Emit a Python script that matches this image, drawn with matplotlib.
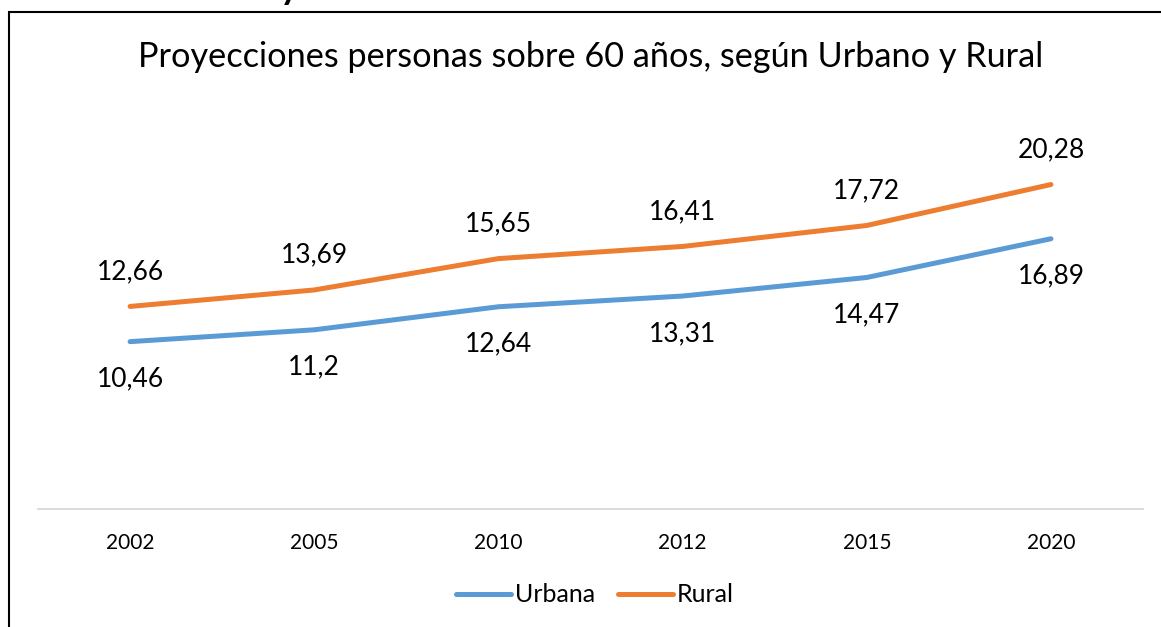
import matplotlib
matplotlib.use('Agg')
import matplotlib.pyplot as plt
from matplotlib.patches import Rectangle
from matplotlib.lines import Line2D

# Data
years = ['2002', '2005', '2010', '2012', '2015', '2020']
urbana = [10.46, 11.2, 12.64, 13.31, 14.47, 16.89]
rural = [12.66, 13.69, 15.65, 16.41, 17.72, 20.28]
urbana_labels = ['10,46', '11,2', '12,64', '13,31', '14,47', '16,89']
rural_labels = ['12,66', '13,69', '15,65', '16,41', '17,72', '20,28']

title = 'Proyecciones personas sobre 60 años, según Urbano y Rural'
blue = '#5B9BD5'
orange = '#ED7D31'

plt.rcParams['font.family'] = ['Lato', 'DejaVu Sans']

W, H = 1161, 627
fig = plt.figure(figsize=(W / 100, H / 100), dpi=100)

# chart frame (only the left and top edges are visible in the crop)
fig.patches.append(Rectangle((8.5 / W, -0.1), 1.2, (1 - 11.5 / H) + 0.1,
                             transform=fig.transFigure, fill=False,
                             edgecolor='black', linewidth=1.5))
# cut-off heading text above the chart
fig.text(289 / W, 1 + 1 / H, 'y', ha='center', va='baseline',
         fontsize=26, fontweight='bold', color='black')

left, right = 38, 1143
bottom, top = 509, 109
ax = fig.add_axes([left / W, (H - bottom) / H, (right - left) / W, (bottom - top) / H])

x = list(range(len(years)))
ax.plot(x, urbana, color=blue, linewidth=3.6, solid_capstyle='round')
ax.plot(x, rural, color=orange, linewidth=3.6, solid_capstyle='round')

for i in x:
    ax.annotate(rural_labels[i], (i, rural[i]), xytext=(0, 25), textcoords='offset points',
                ha='center', va='center', fontsize=19, color='black')
    ax.annotate(urbana_labels[i], (i, urbana[i]), xytext=(0, -27), textcoords='offset points',
                ha='center', va='center', fontsize=19, color='black')

ax.set_xlim(-0.5, len(years) - 0.5)
ax.set_ylim(0, 25)
ax.set_xticks(x)
ax.set_xticklabels(years, fontsize=15)
ax.set_yticks([])
ax.tick_params(axis='x', length=0, pad=17)
for s in ['top', 'right', 'left']:
    ax.spines[s].set_visible(False)
ax.spines['bottom'].set_color('#D9D9D9')
ax.spines['bottom'].set_linewidth(1.3)
ax.patch.set_alpha(0)

fig.text(591 / W, 1 - 57 / H, title, ha='center', va='center', fontsize=24.7, color='black')

handles = [Line2D([0], [0], color=blue, linewidth=3.6, solid_capstyle='round'),
           Line2D([0], [0], color=orange, linewidth=3.6, solid_capstyle='round')]
fig.legend(handles, ['Urbana', 'Rural'], loc='center', bbox_to_anchor=(595 / W, 1 - 595 / H),
           ncol=2, frameon=False, fontsize=18, handlelength=2.2, handletextpad=0.15,
           columnspacing=0.9)

fig.savefig('out.png', dpi=100)
